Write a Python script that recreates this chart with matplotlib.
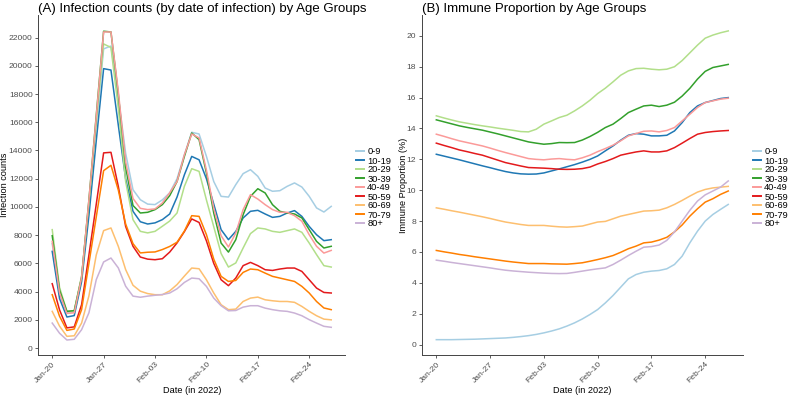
import pandas as pd
import matplotlib
matplotlib.use("Agg")
import matplotlib.pyplot as plt
import matplotlib.dates as mdates

plt.rcParams['font.family'] = ['Liberation Sans', 'DejaVu Sans']

# daily data, Jan-20 .. Feb-27 2022
dates = pd.date_range('2022-01-20', '2022-02-27')
age_groups = ['0-9', '10-19', '20-29', '30-39', '40-49', '50-59', '60-69', '70-79', '80+']
colors = ['#A6CEE3', '#1F78B4', '#B2DF8A', '#33A02C', '#FB9A99',
          '#E31A1C', '#FDBF6F', '#FF7F00', '#CAB2D6']

# (A) infection counts
cases_0_9 = [7400, 3800, 2500, 2550, 5000, 10200, 15800, 21200, 21400, 17800, 13800, 11220, 10510,
             10200, 10165, 10500, 11000, 12000, 13700, 15290, 15170, 13590, 11800, 10750, 10700,
             11580, 12360, 12640, 12170, 11340, 11110, 11150, 11460, 11700, 11410, 10750, 9930, 9640, 10040]
cases_10_19 = [6850, 3500, 2200, 2300, 4700, 9400, 14700, 19800, 19700, 15800, 12000, 9690, 8950,
               8790, 8870, 9100, 9500, 10700, 12280, 13580, 13340, 12000, 10200, 8390, 7680,
               8270, 9220, 9690, 9760, 9500, 9260, 9330, 9570, 9740, 9330, 8620, 8030, 7610, 7680]
cases_20_29 = [8390, 4300, 2600, 2650, 5100, 10300, 16000, 21550, 21300, 17000, 11800, 9100, 8270,
               8160, 8270, 8630, 9000, 9570, 11460, 12710, 12520, 10500, 8600, 6700, 5740,
               6030, 7090, 8110, 8510, 8440, 8270, 8200, 8320, 8440, 8200, 7440, 6620, 5840, 5740]
cases_30_39 = [7960, 4100, 2600, 2650, 5000, 10500, 16500, 22450, 22400, 18000, 12800, 10100, 9570,
               9620, 9810, 10165, 10800, 11800, 13580, 15240, 14770, 12410, 9570, 7440, 6800,
               7680, 9450, 10750, 11290, 10990, 10160, 9690, 9570, 9500, 9220, 8390, 7560, 7090, 7210]
cases_40_49 = [7560, 3900, 2450, 2500, 5000, 10500, 16400, 22400, 22400, 18200, 13200, 10600, 9900,
               9810, 9860, 10280, 11000, 11800, 13700, 15170, 14890, 12600, 9900, 7960, 7160,
               8150, 9810, 10870, 10560, 10160, 9810, 9620, 9620, 9380, 8980, 8030, 7210, 6730, 6920]
cases_50_59 = [4560, 2700, 1430, 1500, 3070, 6600, 10200, 13830, 13870, 11460, 8620, 7210, 6450,
               6300, 6260, 6330, 6800, 7450, 8250, 9150, 8900, 7600, 6000, 4840, 4420,
               4960, 5840, 6070, 5840, 5550, 5500, 5600, 5670, 5670, 5430, 4840, 4250, 3940, 3900]
cases_60_69 = [2600, 1550, 830, 870, 1770, 3700, 6600, 8320, 8510, 7210, 5560, 4450, 4030,
               3860, 3780, 3780, 4050, 4500, 5100, 5670, 5620, 4840, 3900, 3070, 2720,
               2760, 3300, 3540, 3610, 3420, 3350, 3300, 3300, 3240, 2950, 2600, 2290, 2050, 2000]
cases_70_79 = [3780, 2250, 1250, 1350, 2720, 6000, 9300, 12570, 12950, 11200, 8790, 7400, 6740,
               6790, 6810, 6980, 7200, 7500, 8290, 9380, 9330, 8040, 6300, 5080, 4720,
               4790, 5360, 5600, 5550, 5310, 5080, 4960, 4840, 4720, 4370, 3900, 3300, 2840, 2720]
cases_80 = [1770, 1050, 570, 620, 1300, 2500, 4850, 6100, 6380, 5680, 4380, 3680, 3600,
            3680, 3740, 3790, 3900, 4200, 4650, 4960, 4910, 4370, 3540, 3000, 2640,
            2660, 2900, 3000, 3000, 2830, 2720, 2640, 2600, 2480, 2290, 2010, 1770, 1540, 1470]

# (B) immune proportion (%)
imm_0_9 = [0.32, 0.32, 0.32, 0.33, 0.34, 0.35, 0.37, 0.39, 0.41, 0.43, 0.47, 0.52, 0.58,
           0.66, 0.76, 0.88, 1.02, 1.2, 1.41, 1.66, 1.95, 2.27, 2.7, 3.18, 3.72,
           4.26, 4.54, 4.69, 4.76, 4.8, 4.91, 5.19, 5.73, 6.59, 7.35, 8.0, 8.43, 8.76, 9.08]
imm_10_19 = [12.33, 12.21, 12.09, 11.97, 11.84, 11.71, 11.58, 11.46, 11.33, 11.21, 11.12, 11.06, 11.04,
             11.05, 11.12, 11.25, 11.38, 11.52, 11.66, 11.82, 12.0, 12.22, 12.55, 12.87, 13.24,
             13.56, 13.67, 13.63, 13.52, 13.52, 13.56, 13.84, 14.38, 15.03, 15.46, 15.68, 15.81, 15.94, 16.0]
imm_20_29 = [14.82, 14.68, 14.55, 14.43, 14.34, 14.25, 14.17, 14.1, 14.02, 13.95, 13.88, 13.8, 13.78,
             13.95, 14.28, 14.49, 14.71, 14.86, 15.14, 15.46, 15.83, 16.26, 16.61, 17.02, 17.45,
             17.73, 17.88, 17.9, 17.84, 17.8, 17.84, 18.0, 18.4, 18.9, 19.4, 19.85, 20.05, 20.2, 20.32]
imm_30_39 = [14.56, 14.43, 14.3, 14.17, 14.07, 13.98, 13.89, 13.77, 13.65, 13.52, 13.39, 13.26, 13.13,
             13.05, 12.98, 13.02, 13.09, 13.08, 13.09, 13.25, 13.48, 13.75, 14.06, 14.28, 14.64,
             15.03, 15.25, 15.46, 15.51, 15.42, 15.51, 15.7, 16.1, 16.6, 17.2, 17.7, 17.95, 18.05, 18.15]
imm_40_49 = [13.63, 13.49, 13.34, 13.2, 13.09, 12.98, 12.87, 12.73, 12.58, 12.44, 12.31, 12.18, 12.05,
             12.0, 11.97, 12.02, 12.05, 12.0, 11.97, 12.1, 12.27, 12.5, 12.7, 12.92, 13.2,
             13.52, 13.67, 13.82, 13.84, 13.78, 13.87, 14.06, 14.49, 14.92, 15.36, 15.68, 15.79, 15.9, 15.96]
imm_50_59 = [13.05, 12.9, 12.76, 12.61, 12.5, 12.38, 12.27, 12.11, 11.95, 11.79, 11.68, 11.57, 11.47,
             11.45, 11.43, 11.4, 11.36, 11.35, 11.36, 11.4, 11.5, 11.7, 11.86, 12.05, 12.27,
             12.38, 12.48, 12.55, 12.48, 12.48, 12.55, 12.76, 13.05, 13.35, 13.63, 13.74, 13.8, 13.84, 13.87]
imm_60_69 = [8.86, 8.77, 8.67, 8.58, 8.48, 8.38, 8.28, 8.17, 8.05, 7.94, 7.86, 7.78, 7.72,
             7.72, 7.72, 7.67, 7.63, 7.61, 7.64, 7.68, 7.81, 7.94, 7.98, 8.15, 8.32,
             8.43, 8.54, 8.65, 8.67, 8.71, 8.86, 9.08, 9.34, 9.62, 9.88, 10.05, 10.15, 10.2, 10.25]
imm_70_79 = [6.1, 6.01, 5.93, 5.84, 5.77, 5.69, 5.62, 5.55, 5.48, 5.41, 5.35, 5.3, 5.25,
             5.25, 5.25, 5.23, 5.22, 5.21, 5.25, 5.3, 5.4, 5.51, 5.63, 5.77, 5.98,
             6.21, 6.38, 6.59, 6.64, 6.77, 6.95, 7.3, 7.75, 8.32, 8.8, 9.23, 9.45, 9.73, 9.95]
imm_80 = [5.47, 5.4, 5.32, 5.25, 5.18, 5.11, 5.04, 4.97, 4.89, 4.82, 4.77, 4.73, 4.69,
          4.66, 4.63, 4.61, 4.6, 4.61, 4.68, 4.76, 4.84, 4.91, 4.97, 5.19, 5.47,
          5.77, 6.05, 6.31, 6.35, 6.45, 6.75, 7.3, 8.0, 8.7, 9.3, 9.7, 9.95, 10.2, 10.6]

cases = [cases_0_9, cases_10_19, cases_20_29, cases_30_39, cases_40_49,
         cases_50_59, cases_60_69, cases_70_79, cases_80]
immune = [imm_0_9, imm_10_19, imm_20_29, imm_30_39, imm_40_49,
          imm_50_59, imm_60_69, imm_70_79, imm_80]

tick_dates = pd.to_datetime(['2022-01-20', '2022-01-27', '2022-02-03',
                             '2022-02-10', '2022-02-17', '2022-02-24'])

fig = plt.figure(figsize=(7.89, 3.95), dpi=100)
ax1 = fig.add_axes([0.0485, 0.101, 0.389, 0.861])
ax2 = fig.add_axes([0.5345, 0.101, 0.407, 0.861])

axis_col = '#444444'
text_col = '#4D4D4D'


def style(ax, title, ylabel, ylab_x):
    for s in ['top', 'right']:
        ax.spines[s].set_visible(False)
    for s in ['left', 'bottom']:
        ax.spines[s].set_color(axis_col)
        ax.spines[s].set_linewidth(0.7)
    ax.tick_params(length=2.5, width=0.6, color=axis_col, labelcolor=text_col,
                   labelsize=6.1, pad=1.5)
    ax.set_xticks(tick_dates)
    ax.xaxis.set_major_formatter(mdates.DateFormatter('%b-%d'))
    for lab in ax.get_xticklabels():
        lab.set_rotation(45)
        lab.set_ha('right')
        lab.set_rotation_mode('anchor')
    ax.set_xlim(dates[0] - pd.Timedelta(days=1.9), dates[-1] + pd.Timedelta(days=1.9))
    ax.set_title(title, loc='left', fontsize=9.5, pad=2)
    ax.set_xlabel('Date (in 2022)', fontsize=6.6)
    ax.set_ylabel(ylabel, fontsize=6.6)
    ax.xaxis.set_label_coords(0.5, -0.09)
    ax.yaxis.set_label_coords(ylab_x, 0.5)


for vals, lab, c in zip(cases, age_groups, colors):
    ax1.plot(dates, vals, color=c, lw=1.1, label=lab)
ax1.set_ylim(-500, 23600)
ax1.set_yticks(range(0, 22001, 2000))
style(ax1, '(A) Infection counts (by date of infection) by Age Groups', 'Infection counts', -0.094)

for vals, lab, c in zip(immune, age_groups, colors):
    ax2.plot(dates, vals, color=c, lw=1.1, label=lab)
ax2.set_ylim(-0.68, 21.35)
ax2.set_yticks(range(0, 21, 2))
style(ax2, '(B) Immune Proportion by Age Groups', 'Immune Proportion (%)', -0.043)

for ax, x in [(ax1, 356 / 789), (ax2, 753 / 789)]:
    leg = fig.legend(*ax.get_legend_handles_labels(), loc='center left',
                     bbox_to_anchor=(x, 1 - 188 / 395), frameon=False, fontsize=6.7,
                     handlelength=0.9, handletextpad=0.3, labelspacing=0.0,
                     borderpad=0, borderaxespad=0)
    for h in leg.get_lines():
        h.set_linewidth(1.4)

fig.savefig('out.png', dpi=100)
